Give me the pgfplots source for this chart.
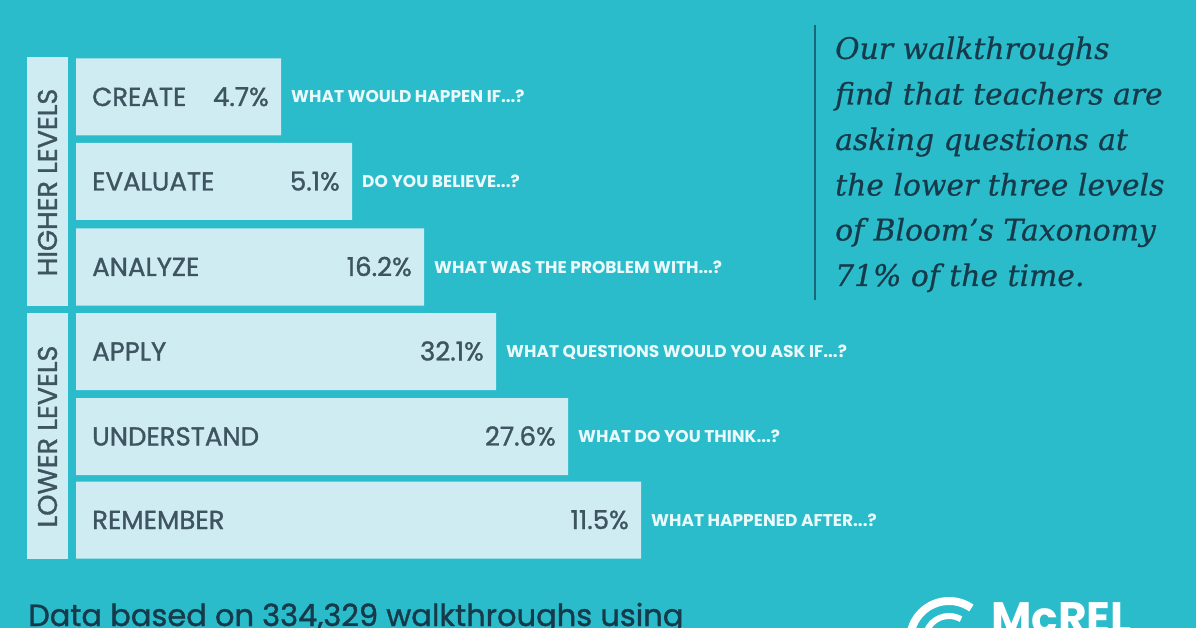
\documentclass[border=0pt]{standalone}
\usepackage{pgfplots}
\pgfplotsset{compat=1.18}
\usepackage{pgfplotstable}
\usepackage{fontspec}
\setmainfont{Poppins}
\newfontfamily\labelfont{Poppins}[FakeBold=1.2]
\newfontfamily\quotefont{DejaVu Serif}[FakeBold=0.6]
\definecolor{bg}{RGB}{42,188,203}
\definecolor{barfill}{RGB}{206,236,242}
\definecolor{labeltxt}{RGB}{62,84,96}
\definecolor{qtxt}{RGB}{234,249,251}
\definecolor{navy}{RGB}{22,58,74}
\definecolor{rulec}{RGB}{24,104,122}

\pgfplotstableread[col sep=comma]{
y,len,pct,cat,q
97,205,4.7\%,CREATE,WHAT WOULD HAPPEN IF...?
181.5,276,5.1\%,EVALUATE,DO YOU BELIEVE...?
267,348,16.2\%,ANALYZE,WHAT WAS THE PROBLEM WITH...?
351.5,420,32.1\%,APPLY,WHAT QUESTIONS WOULD YOU ASK IF...?
436.5,492,27.6\%,UNDERSTAND,WHAT DO YOU THINK...?
520,565,11.5\%,REMEMBER,WHAT HAPPENED AFTER...?
}\bloom

\tikzset{quote/.style={anchor=base west, inner sep=0pt, text=navy, font=\quotefont\itshape\fontsize{29.8}{29.8}\selectfont}}

\begin{document}
\begin{tikzpicture}
\useasboundingbox (0,0) rectangle (1196pt,628pt);
\fill[bg] (0,0) rectangle (1196pt,628pt);
\begin{axis}[at={(0pt,0pt)}, anchor=south west,
  width=1196pt, height=628pt, scale only axis,
  xmin=-76, xmax=1120, ymin=0, ymax=628, y dir=reverse,
  hide axis, clip=false]
% group boxes
\fill[barfill] (axis cs:-49,57) rectangle (axis cs:-8,305.5);
\fill[barfill] (axis cs:-49,313) rectangle (axis cs:-8,558.5);
\node[rotate=90, inner sep=0pt, text=labeltxt, font=\labelfont\fontsize{27}{27}\selectfont] at (axis cs:-28.5,182.5) {HIGHER LEVELS};
\node[rotate=90, inner sep=0pt, text=labeltxt, font=\labelfont\fontsize{27}{27}\selectfont] at (axis cs:-28.5,436.5) {LOWER LEVELS};
% bars
\addplot[xbar, bar width=77, fill=barfill, draw=none] table[x=len, y=y] {\bloom};
% category names
\addplot[draw=none, mark=none, nodes near coords, point meta=explicit symbolic,
  nodes near coords style={anchor=base west, inner sep=0pt, yshift=-9pt, text=labeltxt, font=\labelfont\fontsize{26}{26}\selectfont}]
  table[x expr=16, y=y, meta=cat] {\bloom};
% percentages
\addplot[draw=none, mark=none, nodes near coords, point meta=explicit symbolic,
  nodes near coords style={anchor=base east, inner sep=0pt, xshift=-12pt, yshift=-9pt, text=labeltxt, font=\labelfont\fontsize{26}{26}\selectfont}]
  table[x=len, y=y, meta=pct] {\bloom};
% questions
\addplot[draw=none, mark=none, nodes near coords, point meta=explicit symbolic,
  nodes near coords style={anchor=base west, inner sep=0pt, xshift=10pt, yshift=-6pt, text=qtxt, font=\bfseries\fontsize{17}{17}\selectfont}]
  table[x=len, y=y, meta=q] {\bloom};
% quote
\draw[rulec, line width=2pt] (axis cs:739,25) -- (axis cs:739,300);
\node[quote] at (axis cs:759,59) {Our walkthroughs};
\node[quote] at (axis cs:759,104.5) {find that teachers are};
\node[quote] at (axis cs:759,150) {asking questions at};
\node[quote] at (axis cs:759,195.5) {the lower three levels};
\node[quote] at (axis cs:759,240.5) {of Bloom’s Taxonomy};
\node[quote] at (axis cs:759,286) {71\% of the time.};
% footer
\node[anchor=base west, inner sep=0pt, text=navy, font=\labelfont\fontsize{30.5}{30.5}\selectfont] at (axis cs:-48,626) {Data based on 334,329 walkthroughs using};
\draw[white, line width=8pt] (axis cs:834,640) arc[start angle=180, end angle=55, radius=39pt];
\draw[white, line width=6pt] (axis cs:849,640) arc[start angle=180, end angle=60, radius=24pt];
\fill[white] (axis cs:872,640) circle[radius=10pt];
\node[anchor=base west, inner sep=0pt, text=white, font=\bfseries\fontsize{44}{44}\selectfont] at (axis cs:915,633) {McREL};
\end{axis}
\end{tikzpicture}
\end{document}
